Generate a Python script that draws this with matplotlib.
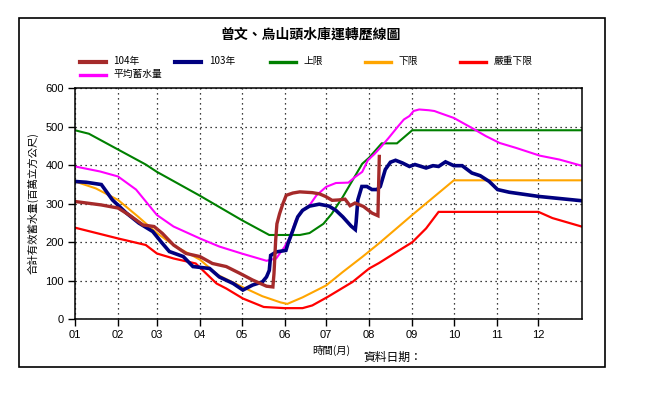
import matplotlib
matplotlib.use("Agg")
import matplotlib.pyplot as plt
from matplotlib.lines import Line2D
from matplotlib.patches import Rectangle

plt.rcParams['font.family'] = ['Noto Sans CJK TC', 'DejaVu Sans']

# 資料 (x = 一年中的第幾天, y = 百萬立方公尺)
month_start = [0, 31, 59, 90, 120, 151, 181, 212, 243, 273, 304, 334]
month_labels = ['01', '02', '03', '04', '05', '06', '07', '08', '09', '10', '11', '12']

upper_day = [0, 10, 31, 51, 59, 90, 120, 140, 162, 169, 179, 185, 193, 200, 207, 212, 221, 232, 243, 365]
upper_val = [491, 482, 441, 402, 383, 321, 258, 219, 219, 224, 248, 274, 318, 361, 404, 420, 457, 457, 491, 491]

lower_day = [0, 15, 31, 45, 59, 72, 90, 103, 120, 135, 148, 153, 164, 181, 193, 207, 219, 243, 273, 365]
lower_val = [358, 340, 310, 268, 224, 190, 155, 115, 85, 60, 44, 40, 57, 88, 123, 162, 197, 271, 361, 361]

severe_day = [0, 31, 51, 59, 71, 87, 102, 109, 121, 136, 151, 164, 171, 182, 200, 212, 219, 234, 243,
              253, 262, 334, 344, 365]
severe_val = [238, 210, 193, 171, 158, 145, 93, 80, 54, 32, 29, 29, 36, 58, 97, 132, 146, 180, 200,
              236, 279, 279, 263, 241]

avg_day = [0, 18, 31, 44, 59, 71, 90, 104, 120, 138, 145, 151, 155, 159, 164, 169, 174, 181, 188, 197,
           202, 207, 211, 216, 221, 226, 233, 237, 241, 244, 248, 255, 259, 262, 273, 286, 296, 306,
           318, 335, 349, 365]
avg_val = [397, 384, 371, 337, 271, 241, 210, 189, 171, 152, 158, 188, 214, 257, 283, 296, 322, 344, 354, 355,
           370, 383, 413, 430, 450, 471, 502, 519, 528, 541, 545, 543, 541, 537, 523, 497, 476, 458,
           445, 425, 415, 399]

y103_day = [0, 8, 19, 27, 37, 46, 56, 63, 68, 78, 85, 97, 104, 114, 121, 128, 135, 138, 140, 141,
            145, 152, 153.5, 157, 160.5, 164, 169, 176, 183, 188, 193, 199, 202, 202.6, 203.8, 206.7,
            210.3, 214, 217.6, 220, 223.6, 227.3, 231, 236, 241, 245, 253, 258, 262, 267, 273, 279,
            286, 292, 298.5, 304.5, 313, 334.5, 365]
y103_val = [358, 356, 350, 310, 276, 250, 228, 197, 176, 163, 137, 132, 110, 93, 76, 89, 97, 110, 127, 166,
            175, 179, 197, 231, 266, 283, 294, 299, 294, 283, 266, 242, 233, 253, 310, 345,
            345, 337, 337, 345, 389, 408, 413, 406, 397, 402, 393, 399, 397, 409, 399, 399,
            380, 373, 358, 337, 330, 319, 308]

y104_day = [0, 19, 31, 39, 49, 57, 63, 71, 80, 90, 99, 109, 119, 128, 138, 142.6, 143.4, 144.6, 145.5,
            147.4, 149.8, 152.2, 157, 162, 171, 176, 180.6, 185.3, 190, 194.6, 198.2, 201.8, 207.9,
            214, 218.3, 218.8, 219.3]
y104_val = [306, 297, 289, 271, 245, 241, 223, 193, 171, 163, 145, 137, 119, 102, 86, 84, 119, 205, 248,
            274, 300, 322, 328, 331, 329, 326, 319, 309, 310, 312, 295, 302, 293,
            276, 269, 350, 423]

series = [
    ('上限', upper_day, upper_val, '#008000', 1.5),
    ('下限', lower_day, lower_val, '#FFA500', 1.5),
    ('嚴重下限', severe_day, severe_val, '#FF0000', 1.6),
    ('平均蓄水量', avg_day, avg_val, '#FF00FF', 1.5),
    ('103年', y103_day, y103_val, '#000080', 2.6),
    ('104年', y104_day, y104_val, '#A52A2A', 2.4),
]
legend_order = ['104年', '103年', '上限', '下限', '嚴重下限', '平均蓄水量']

W, H = 666, 393
fig = plt.figure(figsize=(W / 100, H / 100), dpi=100)

# 外框
fig.patches.append(Rectangle((18.5 / W, 1 - 366.7 / H), (604.6 - 18.5) / W, (366.7 - 18.3) / H,
                             transform=fig.transFigure, fill=False, edgecolor='black', linewidth=1.2))

ax = fig.add_axes([75 / W, 1 - 319.3 / H, (581.5 - 75) / W, (319.3 - 88.3) / H])
for name, d, v, c, lw in series:
    ax.plot(d, v, color=c, linewidth=lw, solid_joinstyle='miter')

ax.set_xlim(0, 365)
ax.set_ylim(0, 600)
ax.set_xticks(month_start)
ax.set_xticklabels(month_labels)
ax.set_yticks(range(0, 601, 100))
ax.grid(True, color='black', linestyle=(0, (1, 3)), linewidth=0.9)
ax.tick_params(direction='out', length=5, width=1, labelsize=8, pad=3)
for lab in ax.get_xticklabels() + ax.get_yticklabels():
    lab.set_fontfamily('Liberation Sans')
for s in ax.spines.values():
    s.set_linewidth(1.1)

# 標題與文字
fig.text(311 / W, 1 - 35 / H, '曾文、烏山頭水庫運轉歷線圖', ha='center', va='center',
         fontsize=10, fontweight='bold')
fig.text(33 / W, 1 - 203 / H, '合計有效蓄水量(百萬立方公尺)', rotation=90, ha='center', va='center',
         fontsize=7.5)
fig.text(331 / W, 1 - 350 / H, '時間(月)', ha='center', va='center', fontsize=7.5)
fig.text(393 / W, 1 - 357 / H, '資料日期：', ha='center', va='center', fontsize=8.5)

# 圖例
style = {s[0]: (s[3], s[4]) for s in series}
for i, name in enumerate(legend_order):
    col = i % 5
    row = i // 5
    x0 = 79.5 + col * 95.1
    y = 62 + row * 13
    c, lw = style[name]
    fig.lines.append(Line2D([x0 / W, (x0 + 26) / W], [1 - y / H, 1 - y / H], transform=fig.transFigure,
                            color=c, linewidth=3.0 if lw > 2 else 2.4))
    fig.text((x0 + 34) / W, 1 - (y - 1) / H, name, ha='left', va='center', fontsize=7)

fig.savefig('out.png', dpi=100)
